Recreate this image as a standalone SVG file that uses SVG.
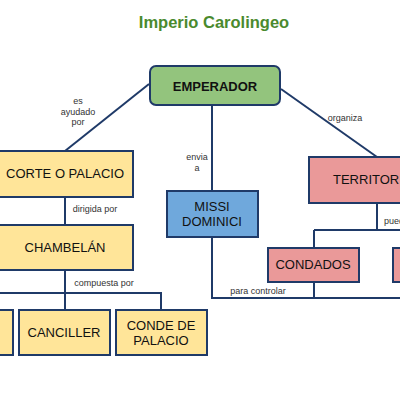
<svg xmlns="http://www.w3.org/2000/svg" width="400" height="400" viewBox="0 0 400 400">
<style>
.box{stroke:#1f3a68;stroke-width:2}
.y{fill:#ffe599}
.p{fill:#ea9999}
.t{font-family:"Liberation Sans",Arial,sans-serif;font-size:13px;fill:#111;text-anchor:middle}
.lbl{font-family:"Liberation Sans",Arial,sans-serif;font-size:9px;fill:#333;text-anchor:middle}
.st{text-anchor:start}
.c{fill:none;stroke:#1f3a68;stroke-width:2}
</style>
<rect width="400" height="400" fill="#fff"/>
<text x="214" y="28" font-family="Liberation Sans,Arial,sans-serif" font-size="16.5" font-weight="bold" fill="#4a8a2e" text-anchor="middle">Imperio Carolingeo</text>
<g id="connectors">
<path class="c" d="M149,84 L65,151"/>
<path class="c" d="M281,89 L377,157"/>
<path class="c" d="M212,105 V191"/>
<path class="c" d="M65,197 V225"/>
<path class="c" d="M65,270 V310 M-5,293 H161 V310"/>
<path class="c" d="M212,237 V298 H405"/>
<path class="c" d="M377,203 V230 M314,230 H405 M314,230 V248"/>
<path class="c" d="M314,282 V298"/>
<text class="lbl" x="78" y="104">es</text>
<text class="lbl" x="78" y="115">ayudado</text>
<text class="lbl" x="78" y="125">por</text>
<text class="lbl" x="345" y="121">organiza</text>
<text class="lbl" x="197" y="160">envia</text>
<text class="lbl" x="197" y="171">a</text>
<text class="lbl" x="95" y="212">dirigida por</text>
<text class="lbl" x="104" y="286">compuesta por</text>
<text class="lbl" x="258" y="294">para controlar</text>
<text class="lbl st" x="384" y="224">pueden</text>
</g>
<g id="emperador">
<rect class="box" x="150" y="66" width="130" height="39" rx="6" fill="#93c47d"/>
<text class="t" x="215" y="91" font-weight="bold">EMPERADOR</text>
</g>
<g id="corte">
<rect class="box y" x="-3" y="151" width="136" height="46"/>
<text class="t" x="65" y="178">CORTE O PALACIO</text>
</g>
<g id="chambelan">
<rect class="box y" x="-3" y="225" width="136" height="45"/>
<text class="t" x="65" y="252">CHAMBELÁN</text>
</g>
<g id="missi">
<rect class="box" x="167" y="191" width="91" height="46" fill="#6fa8dc"/>
<text class="t" x="212" y="211">MISSI</text>
<text class="t" x="212" y="225.5">DOMINICI</text>
</g>
<g id="territorios">
<rect class="box p" x="309" y="157" width="110" height="46"/>
<text class="t st" x="333" y="184">TERRITORIOS</text>
</g>
<g id="condados">
<rect class="box p" x="268" y="248" width="91" height="34"/>
<text class="t" x="313" y="269">CONDADOS</text>
</g>
<g id="pink2">
<rect class="box p" x="393" y="248" width="30" height="34"/>
</g>
<g id="left-bottom">
<rect class="box y" x="-20" y="310" width="33" height="45"/>
</g>
<g id="canciller">
<rect class="box y" x="19" y="310" width="91" height="45"/>
<text class="t" x="64" y="337">CANCILLER</text>
</g>
<g id="conde">
<rect class="box y" x="116" y="310" width="91" height="45"/>
<text class="t" x="161" y="330">CONDE DE</text>
<text class="t" x="161" y="345">PALACIO</text>
</g>
</svg>
